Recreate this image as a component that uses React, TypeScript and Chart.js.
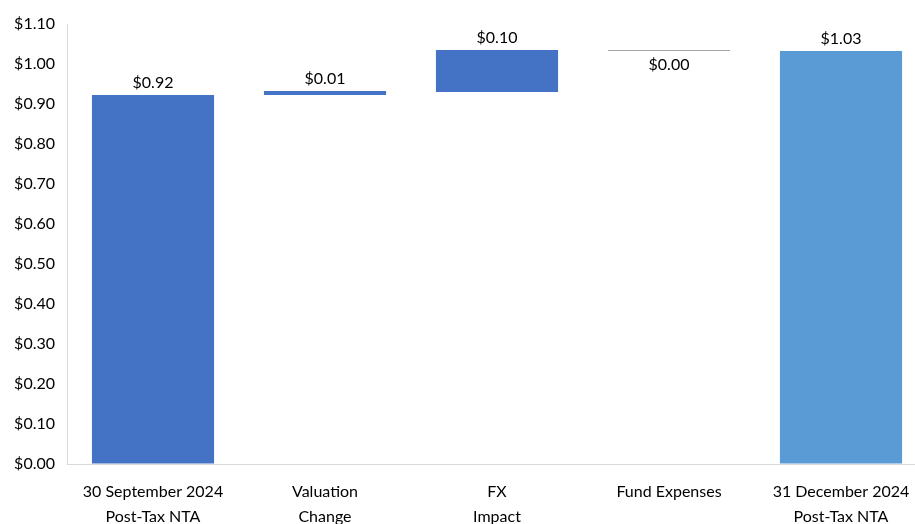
import React, { useEffect, useRef } from "react";
import { Chart, registerables } from "chart.js";

Chart.register(...registerables);

const categories: string[][] = [
  ["30 September 2024", "Post-Tax NTA"],
  ["Valuation", "Change"],
  ["FX", "Impact"],
  ["Fund Expenses"],
  ["31 December 2024", "Post-Tax NTA"],
];
const barStart = [0, 0.9225, 0.93, 1.035, 0];
const barEnd = [0.9225, 0.9325, 1.035, 1.0325, 1.0325];
const valueLabels = ["$0.92", "$0.01", "$0.10", "$0.00", "$1.03"];
const barColors = ["#4472C4", "#4472C4", "#4472C4", "#A5A5A5", "#5B9BD5"];

const FONT = "Lato, 'Noto Sans', sans-serif";

const labelPlugin = {
  id: "valueLabels",
  afterDatasetsDraw(chart: any) {
    const ctx = chart.ctx;
    const meta = chart.getDatasetMeta(0);
    ctx.save();
    ctx.font = `16px ${FONT}`;
    ctx.fillStyle = "#000";
    ctx.textAlign = "center";
    ctx.textBaseline = "middle";
    meta.data.forEach((el: any, i: number) => {
      const { x, y, base } = el.getProps(["x", "y", "base"], true);
      const top = Math.min(y, base);
      const bottom = Math.max(y, base);
      const negative = barEnd[i] < barStart[i];
      const ty = negative ? bottom + 14 : top - 12;
      ctx.fillText(valueLabels[i], x, ty);
    });
    ctx.restore();
  },
};

export default function App() {
  const ref = useRef<HTMLCanvasElement>(null);
  useEffect(() => {
    if (!ref.current) return;
    const chart = new Chart(ref.current, {
      type: "bar",
      data: {
        labels: categories as any,
        datasets: [
          {
            data: barStart.map((s, i) => [s, barEnd[i]]) as any,
            backgroundColor: barColors,
            borderWidth: 0,
            barPercentage: 0.71,
            categoryPercentage: 1,
          },
        ],
      },
      options: {
        responsive: false,
        animation: false,
        layout: { padding: { top: 24, left: 0, right: 0, bottom: 0 } },
        plugins: {
          legend: { display: false },
          tooltip: { enabled: false },
        },
        scales: {
          x: {
            grid: { display: true, drawOnChartArea: false, drawTicks: false },
            border: { display: true, color: "#D9D9D9", width: 1 },
            ticks: {
              color: "#000",
              font: { family: FONT, size: 16, lineHeight: "25px" as any },
              padding: 15,
              maxRotation: 0,
              autoSkip: false,
            },
            afterFit: (s: any) => {
              s.height = 60;
            },
          },
          y: {
            min: 0,
            max: 1.1,
            grid: { display: true, drawOnChartArea: false, drawTicks: false },
            border: { display: true, color: "#D9D9D9", width: 1 },
            ticks: {
              stepSize: 0.1,
              color: "#000",
              font: { family: FONT, size: 16 },
              padding: 12,
              callback: (v: any) => "$" + Number(v).toFixed(2),
            },
            afterFit: (s: any) => {
              s.width = 67;
            },
          },
        },
      },
      plugins: [labelPlugin],
    });
    return () => chart.destroy();
  }, []);
  return (
    <div
      style={{
        position: "absolute",
        left: 0,
        top: 0,
        width: 915,
        height: 524,
        overflow: "hidden",
        background: "#fff",
      }}
    >
      <canvas ref={ref} width={927} height={524} style={{ width: 927, height: 524 }} />
    </div>
  );
}
